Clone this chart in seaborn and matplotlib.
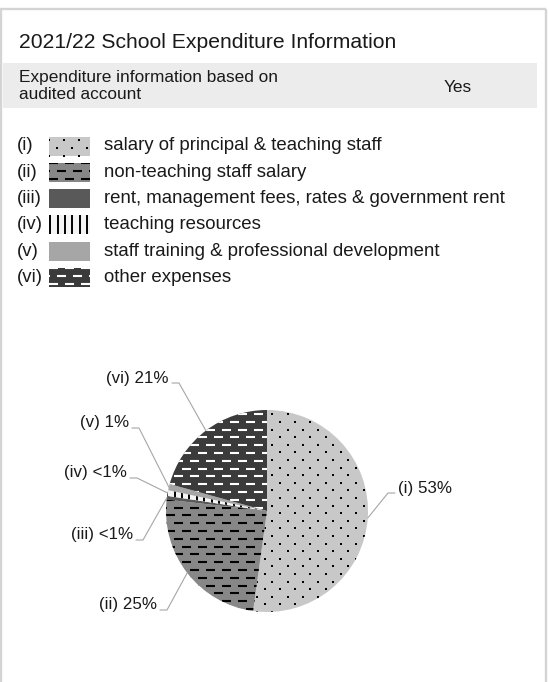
import numpy as np
import matplotlib
matplotlib.use("Agg")
import matplotlib.pyplot as plt
from matplotlib.patches import Rectangle
from matplotlib.collections import LineCollection
import seaborn as sns

TITLE = "2021/22 School Expenditure Information"
INFO_LABEL = "Expenditure information based on\naudited account"
INFO_VALUE = "Yes"

codes = ["(i)", "(ii)", "(iii)", "(iv)", "(v)", "(vi)"]
categories = [
    "salary of principal & teaching staff",
    "non-teaching staff salary",
    "rent, management fees, rates & government rent",
    "teaching resources",
    "staff training & professional development",
    "other expenses",
]
shares = [52.2, 24.6, 0.6, 0.9, 1.0, 20.7]
share_labels = ["53%", "25%", "<1%", "<1%", "1%", "21%"]

# fill, texture, texture colour
fills = ["#c8c8c8", "#878787", "#595959", "#f4f4f4", "#a6a6a6", "#3b3b3b"]
textures = ["dots", "dashes", None, "vlines", None, "dashes"]
tex_colors = ["black", "black", None, "black", None, "white"]

W, H = 549, 682


def Y(p):
    # pixel row (from top) -> data y (from bottom)
    return H - p


def add_texture(ax, clip, kind, color, box):
    if kind is None:
        return
    x0, y0, x1, y1 = box
    if kind == "dots":
        xs, ys = [], []
        for i, y in enumerate(np.arange(y0, y1 + 8, 7.6)):
            off = 7.6 if i % 2 else 0
            for x in np.arange(x0 + off, x1 + 16, 15.2):
                xs.append(x)
                ys.append(y)
        art = ax.scatter(xs, ys, s=2.6, marker="s", color=color, linewidths=0)
    elif kind == "dashes":
        segs = []
        for i, y in enumerate(np.arange(y0 + 3, y1 + 8, 7.8)):
            off = 8 if i % 2 else 0
            for x in np.arange(x0 + off - 16, x1 + 16, 16):
                segs.append([(x, y), (x + 8.5, y)])
        art = LineCollection(segs, colors=color, linewidths=1.5, capstyle="butt")
        ax.add_collection(art)
    else:
        segs = [[(x, y0 - 2), (x, y1 + 2)] for x in np.arange(x0 + 1.2, x1 + 1, 7.4)]
        art = LineCollection(segs, colors=color, linewidths=1.4, capstyle="butt")
        ax.add_collection(art)
    art.set_clip_path(clip)


sns.set_theme(style="white")
plt.rcParams["font.family"] = ["Liberation Sans", "DejaVu Sans"]

fig = plt.figure(figsize=(W / 100, H / 100), dpi=100)
ax = fig.add_axes([0, 0, 1, 1])

# frame around the card
frame_col = "#d4d4d4"
ax.plot([0, 546], [Y(9), Y(9)], color=frame_col, lw=1.7, solid_capstyle="butt")
ax.plot([1, 1], [Y(9), 0], color=frame_col, lw=1.7, solid_capstyle="butt")
ax.plot([545.5, 545.5], [Y(9), 0], color=frame_col, lw=1.7, solid_capstyle="butt")

# title and info band
ax.text(19, Y(43), TITLE, fontsize=15.2, color="#1a1a1a", va="center", ha="left")
ax.add_patch(Rectangle((3, Y(108)), 534, 45, facecolor="#ececec", edgecolor="none"))
ax.text(19, Y(86), INFO_LABEL, fontsize=12.4, color="#1a1a1a", va="center",
        ha="left", linespacing=1.15)
ax.text(458, Y(88), INFO_VALUE, fontsize=12.4, color="#1a1a1a", va="center", ha="center")

# legend rows
for i, (code, name) in enumerate(zip(codes, categories)):
    yc = Y(146 + 26.3 * i)
    ax.text(17, yc, code, fontsize=13.4, color="#1a1a1a", va="center", ha="left")
    rect = Rectangle((49, yc - 9.5), 41, 19, facecolor=fills[i], edgecolor="none")
    ax.add_patch(rect)
    add_texture(ax, rect, textures[i], tex_colors[i], (49, yc - 9.5, 90, yc + 9.5))
    ax.text(104, yc, name, fontsize=13.4, color="#1a1a1a", va="center", ha="left")

# pie
cx, cy, r = 267, Y(511), 101
wedges, _ = ax.pie(shares, colors=fills, startangle=90, counterclock=False,
                   center=(cx, cy), radius=r, frame=True,
                   wedgeprops=dict(linewidth=0))
for w, kind, col in zip(wedges, textures, tex_colors):
    add_texture(ax, w, kind, col, (cx - r, cy - r, cx + r, cy + r))

# outside labels with leader lines (label anchor in pixels, side)
label_pos = [(398, 488, "left"), (157, 605, "right"), (133, 535, "right"),
             (127, 473, "right"), (129, 423, "right"), (169, 378, "right")]
for w, code, txt, (lx, ly, side) in zip(wedges, codes, share_labels, label_pos):
    mid = np.deg2rad((w.theta1 + w.theta2) / 2)
    ex, ey = cx + r * np.cos(mid), cy + r * np.sin(mid)
    sgn = 1 if side == "right" else -1
    ax.plot([ex, lx + sgn * 10, lx + sgn * 3], [ey, Y(ly + 5), Y(ly + 5)],
            color="#a6a6a6", lw=0.8)
    ax.text(lx, Y(ly), f"{code} {txt}", fontsize=12.2, color="#1a1a1a",
            va="center", ha=side)

ax.set_xlim(0, W)
ax.set_ylim(0, H)
ax.set_axis_off()
fig.savefig("out.png", dpi=100, facecolor="white")
